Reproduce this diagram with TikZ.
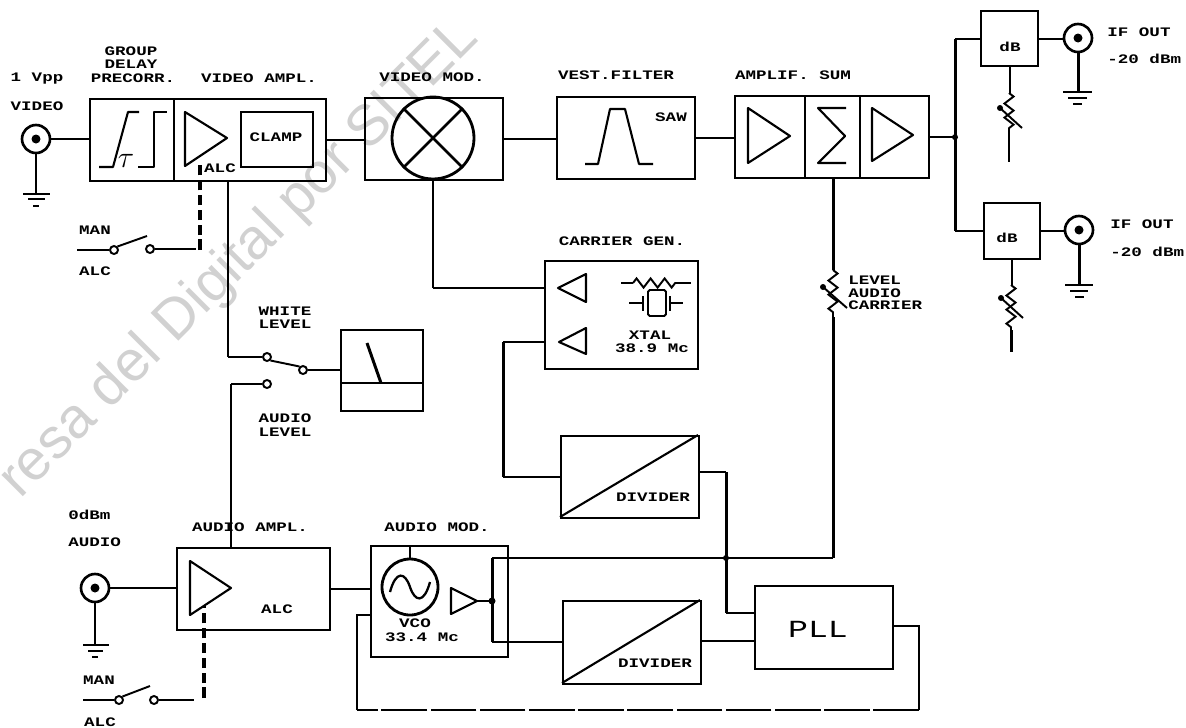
\documentclass[tikz,border=0pt]{standalone}
\usepackage{fontspec}
\usetikzlibrary{decorations.pathmorphing}
\newfontfamily\platefont[FakeStretch=1.35]{Liberation Mono}
\newfontfamily\stampfont{Liberation Sans}
\def\px{0.02cm}
\definecolor{stamp}{gray}{0.82}
\tikzset{
  blk/.style 2 args={draw,line width=1.3pt,inner sep=0pt,anchor=north west,
    minimum width=#1*\px,minimum height=#2*\px},
  wire/.style={line width=1.1pt},
  trunk/.style={line width=1.7pt},
  sym/.style={line width=1.2pt,line join=round},
  ctrl/.style={line width=1.8pt,dash pattern=on 6pt off 2.5pt},
  fbk/.style={line width=1.1pt,dash pattern=on 26pt off 2pt},
  zigzagr/.style={line width=1.1pt,decorate,decoration={zigzag,segment length=8pt,amplitude=2.6pt}},
  jack/.style={draw,circle,line width=1.5pt,inner sep=0pt,minimum size=28*\px},
  contact/.style={draw,circle,line width=1.1pt,fill=white,inner sep=0pt,minimum size=8*\px},
  lab/.style={font=\platefont\bfseries\fontsize{7.4}{8}\selectfont,inner sep=0pt},
  labl/.style={lab,anchor=west},
}
\begin{document}
\begin{tikzpicture}[x=\px,y=-\px]
\useasboundingbox (0,0) rectangle (1186,727);
\clip (0,0) rectangle (1186,727);

% ---------------------------------------------------------------- stamp
\node[stamp,rotate=45,anchor=base west,inner sep=0pt,font=\stampfont\fontsize{32.5}{34}\selectfont]
  (stampline) at (20,500) {resa del Digital por SITEL};

% ---------------------------------------------------------------- video row
\node[jack] (vidjack) at (36,139) {};
\fill (vidjack.center) circle (4.5);
\node[blk={84}{82}] (gdbox) at (89,98) {};
\node[blk={152}{82}] (vampbox) at (173,98) {};
\node[blk={72}{55}] (clampbox) at (240,111) {};
\node[blk={138}{82}] (vmodbox) at (364,97) {};
\node[blk={138}{82}] (vestbox) at (556,96) {};
\node[blk={70}{82}] (sumamp1) at (734,95) {};
\node[blk={55}{82}] (sumsig) at (804,95) {};
\node[blk={69}{82}] (sumamp2) at (859,95) {};
\node[draw,circle,line width=1.6pt,inner sep=0pt,minimum size=82*\px] (mixcirc) at (433,138) {};
\draw[line width=1.6pt] (mixcirc.45) -- (mixcirc.225) (mixcirc.135) -- (mixcirc.315);

\draw[wire] (vidjack.east) -- (vidjack.east -| gdbox.west);
\draw[wire] (vampbox.east) -- (vampbox.east -| vmodbox.west);
\draw[wire] (vmodbox.east) -- (vmodbox.east -| vestbox.west);
\draw[wire] (vestbox.east) -- (vestbox.east -| sumamp1.west);

% group delay, gains, filter, sum
\draw[sym] (99,167) -- (113,167) -- (128,112) -- (139,112);
\draw[sym] (138,167) -- (154,167) -- (154,112) -- (167,112);
\node[inner sep=0pt,font=\fontsize{17}{18}\selectfont] (taumark) at (126,161) {$\tau$};
\draw[sym] (185,112) -- (227,138) -- (185,166) -- cycle;
\draw[sym] (585,164) -- (598,164) -- (610,109) -- (625,109) -- (639,164) -- (653,164);
\draw[sym] (748,108) -- (790,136) -- (748,163) -- cycle;
\draw[sym] (872,108) -- (913,135) -- (872,161) -- cycle;
\draw[sym] (846,108) -- (818,108) -- (845,136) -- (818,163) -- (846,163);

% ---------------------------------------------------------------- left side switches
\coordinate (alcinA) at (200,165);
\coordinate (alcA) at (200,250);
\coordinate (manA) at (77,250);
\node[contact] (swA) at (114,250) {};
\node[contact] (swB) at (150,249) {};
\draw[wire] (manA) -- (swA.west);
\draw[wire] (swA.north east) -- (147,236);
\draw[wire] (swB.east) -- (196,249);
\draw[ctrl] (alcA) -- (alcinA);

\coordinate (vlevel) at (228,180);
\node[contact] (wlA) at (267,357) {};
\node[contact] (wlB) at (267,384) {};
\node[contact] (wlC) at (303,370) {};
\node[blk={82}{81}] (meter) at (340,329) {};
\coordinate (alevel) at (231,547);
\draw[trunk] (vlevel) -- (vlevel |- wlA);
\draw[wire] (vlevel |- wlA) -- (wlA.west);
\draw[trunk] (alevel) -- (alevel |- wlB);
\draw[wire] (alevel |- wlB) -- (wlB.west);
\draw[wire] (wlA.south east) -- (wlC.north west);
\draw[wire] (wlC.east) -- (meter.west |- wlC);
\draw[wire] (340,383) -- (422,383);
\draw[line width=1.7pt] (367,343) -- (381,383);

% ---------------------------------------------------------------- carrier generator
\node[blk={153}{108}] (carrbox) at (544,260) {};
\node[blk={138}{82}] (div1) at (560,435) {};
\coordinate (vmodout) at (433,179);
\coordinate (carrA) at (544,288);
\coordinate (carrB) at (544,342);
\coordinate (divdrop) at (503,342);
\draw[trunk] (vmodout) -- (vmodout |- carrA);
\draw[wire] (vmodout |- carrA) -- (carrA);
\draw[wire] (carrB) -- (divdrop);
\draw[trunk] (divdrop) -- (divdrop |- div1.west);
\draw[wire] (divdrop |- div1.west) -- (div1.west);
\draw[sym] (558,288) -- (586,274) -- (586,302) -- cycle;
\draw[sym] (559,342) -- (586,328) -- (586,354) -- cycle;
% resistor and crystal
\draw[wire] (621,283) -- (633,283);
\draw[zigzagr] (633,283) -- (677,283);
\draw[wire] (677,283) -- (691,283);
\draw[wire,rounded corners=1pt] (648,290) rectangle (666,316);
\draw[wire] (629,303) -- (643,303) (643,296) -- (643,311);
\draw[wire] (670,296) -- (670,311) (670,303) -- (683,303);
\draw[sym] (560,517) -- (698,435);

% ---------------------------------------------------------------- audio row
\node[jack] (audjack) at (95,588) {};
\fill (audjack.center) circle (4.5);
\node[blk={153}{82}] (aampbox) at (176,547) {};
\node[blk={137}{111}] (amodbox) at (370,545) {};
\node[blk={138}{83}] (div2) at (562,600) {};
\node[blk={138}{83}] (pll) at (754,585) {};
\node[draw,circle,line width=1.6pt,inner sep=0pt,minimum size=56*\px] (vcocirc) at (410,587) {};
\draw[line width=1.3pt] (390,592) .. controls (396,570) and (405,572) .. (410,587)
  .. controls (415,602) and (424,604) .. (430,582);
\draw[sym] (190,561) -- (231,588) -- (190,615) -- cycle;
\draw[sym] (451,588) -- (477,601) -- (451,614) -- cycle;
\draw[sym] (562,683) -- (700,600);
\draw[wire] (audjack.east) -- (audjack.east -| aampbox.west);
\draw[wire] (aampbox.east) -- (aampbox.east -| amodbox.west);
\draw[wire] (amodbox.north -| vcocirc.north) -- (vcocirc.north);

\coordinate (barT) at (492,558);
\coordinate (barM) at (492,601);
\coordinate (barB) at (492,642);
\coordinate (sumdown) at (833,177);
\coordinate (rsA) at (833,270);
\coordinate (rsB) at (833,317);
\coordinate (rsC) at (833,558);
\draw[wire] (477,601) -- (barM);
\fill (barM) circle (3.5);
\draw[trunk] (barT) -- (barB);
\draw[wire] (barB) -- (div2.west |- barB);
\draw[trunk] (sumdown) -- (rsA);
\draw[zigzagr] (rsA) -- (rsB);
\draw[trunk] (rsB) -- (rsC);
\draw[wire] (rsC) -- (barT);
\draw[wire] (823,287) -- (847,308);
\fill (823,287) circle (3);
\coordinate (div1out) at (698,472);
\coordinate (pllrise) at (726,472);
\coordinate (pllinA) at (754,613);
\draw[wire] (div1out) -- (pllrise);
\draw[trunk] (pllrise) -- (pllrise |- pllinA);
\draw[wire] (pllrise |- pllinA) -- (pllinA);
\fill (726,558) circle (3);
\draw[wire] (div2.east |- 0,641) -- (pll.west |- 0,641);

% feedback from the loop filter
\coordinate (pllout) at (892,626);
\coordinate (fbkA) at (919,710);
\coordinate (fbkB) at (357,710);
\coordinate (vcoin) at (370,615);
\draw[wire] (pllout) -| (fbkA);
\draw[fbk] (fbkA) -- (fbkB);
\draw[wire] (fbkB) |- (vcoin);

% audio switch
\coordinate (manC) at (83,700);
\node[contact] (swC) at (119,700) {};
\node[contact] (swD) at (154,700) {};
\draw[wire] (manC) -- (swC.west);
\draw[wire] (swC.north east) -- (150,686);
\draw[wire] (swD.east) -- (194,700);
\draw[ctrl] (204,698) -- (204,606);

% ---------------------------------------------------------------- grounds
\draw[trunk] (vidjack.south) -- (36,193);
\draw[wire] (23,194) -- (50,194) (28,199) -- (45,199) (33,206) -- (39,206);
\draw[trunk] (audjack.south) -- (95,645);
\draw[wire] (83,645) -- (109,645) (88,651) -- (103,651) (92,657) -- (98,657);

% ---------------------------------------------------------------- outputs
\coordinate (sumout) at (sumamp2.east -| 955,0);
\node[blk={57}{55}] (db1) at (980,10) {};
\node[blk={56}{56}] (db2) at (983,202) {};
\node[jack] (jack1) at (1078,38) {};
\node[jack] (jack2) at (1079,230) {};
\fill (jack1.center) circle (4.5);
\fill (jack2.center) circle (4.5);
\draw[wire] (sumamp2.east) -- (sumout);
\fill (sumout) circle (3);
\draw[trunk] (sumout) -- (sumout |- db1.west);
\draw[trunk] (sumout) -- (sumout |- db2.west);
\draw[wire] (sumout |- db1.west) -- (db1.west);
\draw[wire] (sumout |- db2.west) -- (db2.west);
\draw[wire] (db1.east) -- (db1.east -| jack1.west);
\draw[wire] (db2.east) -- (db2.east -| jack2.west);
\draw[trunk] (jack1.south) -- (1078,91);
\draw[wire] (1063,92) -- (1092,92) (1068,98) -- (1087,98) (1073,104) -- (1082,104);
\draw[trunk] (jack2.south) -- (1079,284);
\draw[wire] (1065,285) -- (1093,285) (1070,291) -- (1088,291) (1075,297) -- (1084,297);
% attenuators
\coordinate (rtA) at (1009,93);
\coordinate (rtB) at (1009,135);
\coordinate (rbA) at (1011,285);
\coordinate (rbB) at (1011,330);
\draw[wire] (db1.south) -- (db1.south |- rtA) -- (rtA);
\draw[zigzagr] (rtA) -- (rtB);
\draw[wire] (rtB) -- (1009,162);
\draw[wire] (1000,108) -- (1022,128);
\fill (1000,108) circle (3);
\draw[wire] (db2.south) -- (db2.south |- rbA) -- (rbA);
\draw[zigzagr] (rbA) -- (rbB);
\draw[trunk] (rbB) -- (1011,352);
\draw[wire] (1001,298) -- (1023,318);
\fill (1001,298) circle (3);

% ---------------------------------------------------------------- labels
\node[lab] (t1) at (37,79) {1 Vpp};
\node[lab] (t2) at (37,106) {VIDEO};
\node[lab] (t3) at (131,51) {GROUP};
\node[lab] (t4) at (131,64) {DELAY};
\node[lab] (t5) at (133,78) {PRECORR.};
\node[lab] (t6) at (259,78) {VIDEO AMPL.};
\node[lab] (t7) at (276,137) {CLAMP};
\node[lab] (t8) at (220,168) {ALC};
\node[lab] (t9) at (432,77) {VIDEO MOD.};
\node[lab] (t10) at (616,75) {VEST.FILTER};
\node[lab] (t11) at (671,117) {SAW};
\node[lab] (t12) at (793,75) {AMPLIF. SUM};
\node[labl] (t13) at (848,280) {LEVEL};
\node[labl] (t14) at (848,293) {AUDIO};
\node[labl] (t15) at (848,305) {CARRIER};
\node[lab] (t16) at (622,241) {CARRIER GEN.};
\node[lab] (t17) at (650,335) {XTAL};
\node[lab] (t18) at (652,348) {38.9 Mc};
\node[lab] (t19) at (95,230) {MAN};
\node[lab] (t20) at (95,271) {ALC};
\node[lab] (t21) at (285,311) {WHITE};
\node[lab] (t22) at (285,324) {LEVEL};
\node[lab] (t23) at (285,418) {AUDIO};
\node[lab] (t24) at (285,432) {LEVEL};
\node[lab] (t25) at (653,497) {DIVIDER};
\node[lab] (t26) at (655,663) {DIVIDER};
\node[lab] (t27) at (250,527) {AUDIO AMPL.};
\node[lab] (t28) at (437,527) {AUDIO MOD.};
\node[labl] (t29) at (68,515) {0dBm};
\node[labl] (t30) at (68,542) {AUDIO};
\node[lab] (t31) at (277,609) {ALC};
\node[lab] (t32) at (415,623) {VCO};
\node[lab] (t33) at (422,637) {33.4 Mc};
\node[lab] (t34) at (99,680) {MAN};
\node[lab] (t35) at (100,722) {ALC};
\node[lab] (t36) at (1010,47) {dB};
\node[lab] (t37) at (1007,238) {dB};
\node[labl] (t38) at (1107,32) {IF OUT};
\node[labl] (t39) at (1107,59) {-20 dBm};
\node[labl] (t40) at (1110,224) {IF OUT};
\node[labl] (t41) at (1110,252) {-20 dBm};
\node[inner sep=0pt,font=\platefont\fontsize{14}{15}\selectfont] (t42) at (818,629) {PLL};

\end{tikzpicture}
\end{document}
